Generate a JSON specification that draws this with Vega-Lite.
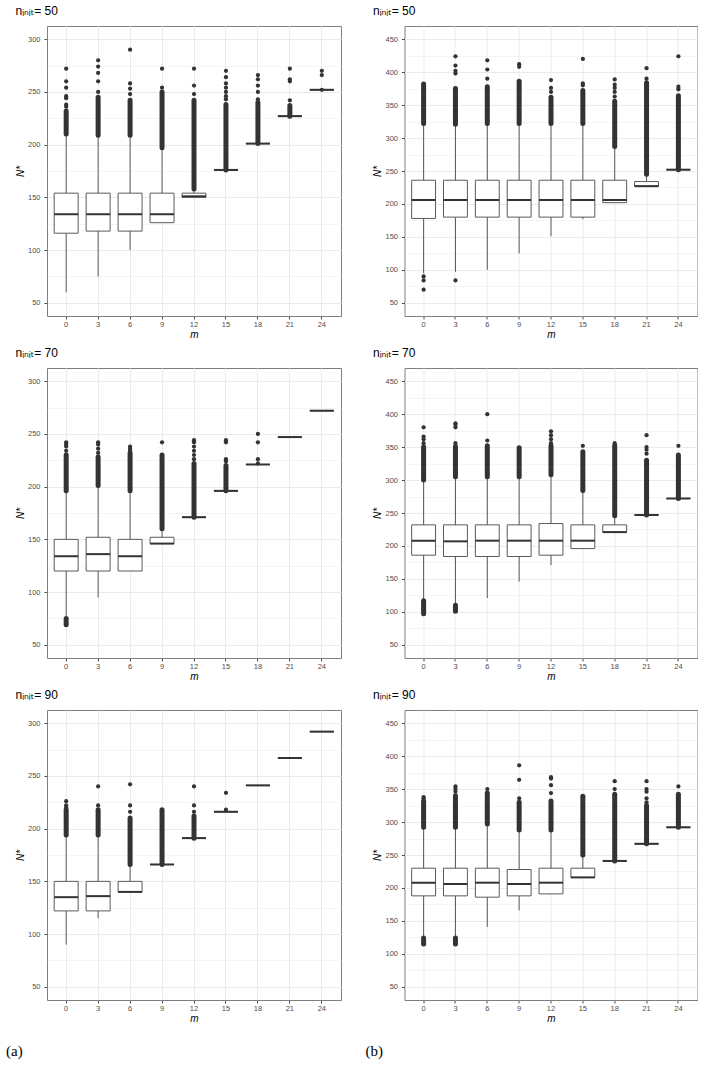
{
  "$schema": "https://vega.github.io/schema/vega-lite/v6.json",
  "padding": {"left": 5, "top": 4, "right": 0, "bottom": 0},
  "background": "white",
  "datasets": {
    "boxes": [
      {"p": "a50", "m": 0, "lo": 60, "q1": 116, "med": 134, "q3": 154, "hi": 210},
      {"p": "a50", "m": 3, "lo": 75, "q1": 118, "med": 134, "q3": 154, "hi": 209},
      {"p": "a50", "m": 6, "lo": 100, "q1": 118, "med": 134, "q3": 154, "hi": 209},
      {"p": "a50", "m": 9, "lo": 126, "q1": 126, "med": 134, "q3": 154, "hi": 197},
      {"p": "a50", "m": 12, "lo": 150, "q1": 150, "med": 151, "q3": 154, "hi": 158},
      {"p": "a50", "m": 15, "lo": 176, "q1": 176, "med": 176, "q3": 176, "hi": 176},
      {"p": "a50", "m": 18, "lo": 201, "q1": 201, "med": 201, "q3": 201, "hi": 201},
      {"p": "a50", "m": 21, "lo": 227, "q1": 227, "med": 227, "q3": 227, "hi": 227},
      {"p": "a50", "m": 24, "lo": 252, "q1": 252, "med": 252, "q3": 252, "hi": 252},
      {"p": "b50", "m": 0, "lo": 95, "q1": 178, "med": 206, "q3": 236, "hi": 322},
      {"p": "b50", "m": 3, "lo": 97, "q1": 180, "med": 206, "q3": 236, "hi": 321},
      {"p": "b50", "m": 6, "lo": 100, "q1": 180, "med": 206, "q3": 236, "hi": 322},
      {"p": "b50", "m": 9, "lo": 125, "q1": 180, "med": 206, "q3": 236, "hi": 322},
      {"p": "b50", "m": 12, "lo": 151, "q1": 180, "med": 206, "q3": 236, "hi": 322},
      {"p": "b50", "m": 15, "lo": 177, "q1": 180, "med": 206, "q3": 236, "hi": 322},
      {"p": "b50", "m": 18, "lo": 202, "q1": 202, "med": 206, "q3": 236, "hi": 287},
      {"p": "b50", "m": 21, "lo": 227, "q1": 227, "med": 227, "q3": 234, "hi": 245},
      {"p": "b50", "m": 24, "lo": 252, "q1": 252, "med": 252, "q3": 252, "hi": 252},
      {"p": "a70", "m": 0, "lo": 77, "q1": 120, "med": 134, "q3": 150, "hi": 196},
      {"p": "a70", "m": 3, "lo": 95, "q1": 120, "med": 136, "q3": 152, "hi": 201},
      {"p": "a70", "m": 6, "lo": 120, "q1": 120, "med": 134, "q3": 150, "hi": 196},
      {"p": "a70", "m": 9, "lo": 146, "q1": 146, "med": 146, "q3": 152, "hi": 160},
      {"p": "a70", "m": 12, "lo": 171, "q1": 171, "med": 171, "q3": 171, "hi": 171},
      {"p": "a70", "m": 15, "lo": 196, "q1": 196, "med": 196, "q3": 196, "hi": 196},
      {"p": "a70", "m": 18, "lo": 221, "q1": 221, "med": 221, "q3": 221, "hi": 221},
      {"p": "a70", "m": 21, "lo": 247, "q1": 247, "med": 247, "q3": 247, "hi": 247},
      {"p": "a70", "m": 24, "lo": 272, "q1": 272, "med": 272, "q3": 272, "hi": 272},
      {"p": "b70", "m": 0, "lo": 118, "q1": 186, "med": 208, "q3": 232, "hi": 300},
      {"p": "b70", "m": 3, "lo": 112, "q1": 184, "med": 207, "q3": 232, "hi": 305},
      {"p": "b70", "m": 6, "lo": 121, "q1": 184, "med": 208, "q3": 232, "hi": 305},
      {"p": "b70", "m": 9, "lo": 146, "q1": 184, "med": 208, "q3": 232, "hi": 305},
      {"p": "b70", "m": 12, "lo": 171, "q1": 186, "med": 208, "q3": 234, "hi": 308},
      {"p": "b70", "m": 15, "lo": 196, "q1": 196, "med": 208, "q3": 232, "hi": 284},
      {"p": "b70", "m": 18, "lo": 221, "q1": 221, "med": 221, "q3": 232, "hi": 246},
      {"p": "b70", "m": 21, "lo": 247, "q1": 247, "med": 247, "q3": 247, "hi": 247},
      {"p": "b70", "m": 24, "lo": 272, "q1": 272, "med": 272, "q3": 272, "hi": 272},
      {"p": "a90", "m": 0, "lo": 90, "q1": 122, "med": 135, "q3": 150, "hi": 194},
      {"p": "a90", "m": 3, "lo": 115, "q1": 122, "med": 136, "q3": 150, "hi": 194},
      {"p": "a90", "m": 6, "lo": 140, "q1": 140, "med": 140, "q3": 150, "hi": 166},
      {"p": "a90", "m": 9, "lo": 166, "q1": 166, "med": 166, "q3": 166, "hi": 166},
      {"p": "a90", "m": 12, "lo": 191, "q1": 191, "med": 191, "q3": 191, "hi": 191},
      {"p": "a90", "m": 15, "lo": 216, "q1": 216, "med": 216, "q3": 216, "hi": 216},
      {"p": "a90", "m": 18, "lo": 241, "q1": 241, "med": 241, "q3": 241, "hi": 241},
      {"p": "a90", "m": 21, "lo": 267, "q1": 267, "med": 267, "q3": 267, "hi": 267},
      {"p": "a90", "m": 24, "lo": 292, "q1": 292, "med": 292, "q3": 292, "hi": 292},
      {"p": "b90", "m": 0, "lo": 126, "q1": 188, "med": 208, "q3": 230, "hi": 292},
      {"p": "b90", "m": 3, "lo": 126, "q1": 188, "med": 206, "q3": 230, "hi": 292},
      {"p": "b90", "m": 6, "lo": 141, "q1": 186, "med": 208, "q3": 230, "hi": 297},
      {"p": "b90", "m": 9, "lo": 166, "q1": 188, "med": 206, "q3": 228, "hi": 288},
      {"p": "b90", "m": 12, "lo": 191, "q1": 191, "med": 208, "q3": 230, "hi": 288},
      {"p": "b90", "m": 15, "lo": 216, "q1": 216, "med": 216, "q3": 230, "hi": 250},
      {"p": "b90", "m": 18, "lo": 241, "q1": 241, "med": 241, "q3": 241, "hi": 241},
      {"p": "b90", "m": 21, "lo": 267, "q1": 267, "med": 267, "q3": 267, "hi": 267},
      {"p": "b90", "m": 24, "lo": 292, "q1": 292, "med": 292, "q3": 292, "hi": 292}
    ],
    "dense": [
      {"p": "a50", "m": 0, "from": 210, "to": 232},
      {"p": "a50", "m": 3, "from": 209, "to": 245},
      {"p": "a50", "m": 6, "from": 209, "to": 242},
      {"p": "a50", "m": 9, "from": 197, "to": 250},
      {"p": "a50", "m": 12, "from": 158, "to": 242},
      {"p": "a50", "m": 15, "from": 176, "to": 238},
      {"p": "a50", "m": 18, "from": 201, "to": 240},
      {"p": "a50", "m": 21, "from": 227, "to": 237},
      {"p": "b50", "m": 0, "from": 322, "to": 382},
      {"p": "b50", "m": 3, "from": 321, "to": 375},
      {"p": "b50", "m": 6, "from": 322, "to": 378},
      {"p": "b50", "m": 9, "from": 322, "to": 386},
      {"p": "b50", "m": 12, "from": 322, "to": 362},
      {"p": "b50", "m": 15, "from": 322, "to": 372},
      {"p": "b50", "m": 18, "from": 287, "to": 356},
      {"p": "b50", "m": 21, "from": 245, "to": 384},
      {"p": "b50", "m": 24, "from": 252, "to": 364},
      {"p": "a70", "m": 0, "from": 196, "to": 230},
      {"p": "a70", "m": 0, "from": 69, "to": 75},
      {"p": "a70", "m": 3, "from": 201, "to": 228},
      {"p": "a70", "m": 6, "from": 196, "to": 232},
      {"p": "a70", "m": 9, "from": 160, "to": 230},
      {"p": "a70", "m": 12, "from": 171, "to": 222},
      {"p": "a70", "m": 15, "from": 196, "to": 220},
      {"p": "b70", "m": 0, "from": 300, "to": 350},
      {"p": "b70", "m": 0, "from": 97, "to": 117},
      {"p": "b70", "m": 3, "from": 305, "to": 350},
      {"p": "b70", "m": 3, "from": 101, "to": 110},
      {"p": "b70", "m": 6, "from": 305, "to": 352},
      {"p": "b70", "m": 9, "from": 305, "to": 349},
      {"p": "b70", "m": 12, "from": 308, "to": 352},
      {"p": "b70", "m": 15, "from": 284, "to": 343},
      {"p": "b70", "m": 18, "from": 246, "to": 352},
      {"p": "b70", "m": 21, "from": 247, "to": 330},
      {"p": "b70", "m": 24, "from": 272, "to": 338},
      {"p": "a90", "m": 0, "from": 194, "to": 218},
      {"p": "a90", "m": 3, "from": 194, "to": 218},
      {"p": "a90", "m": 6, "from": 166, "to": 210},
      {"p": "a90", "m": 9, "from": 166, "to": 218},
      {"p": "a90", "m": 12, "from": 191, "to": 212},
      {"p": "b90", "m": 0, "from": 292, "to": 332},
      {"p": "b90", "m": 0, "from": 115, "to": 124},
      {"p": "b90", "m": 3, "from": 292, "to": 340},
      {"p": "b90", "m": 3, "from": 115, "to": 124},
      {"p": "b90", "m": 6, "from": 297, "to": 344},
      {"p": "b90", "m": 9, "from": 288, "to": 330},
      {"p": "b90", "m": 12, "from": 288, "to": 332},
      {"p": "b90", "m": 15, "from": 250, "to": 339},
      {"p": "b90", "m": 18, "from": 241, "to": 342},
      {"p": "b90", "m": 21, "from": 267, "to": 325},
      {"p": "b90", "m": 24, "from": 292, "to": 342}
    ],
    "pts": [
      {"p": "a50", "m": 0, "v": 236}, {"p": "a50", "m": 0, "v": 238}, {"p": "a50", "m": 0, "v": 244}, {"p": "a50", "m": 0, "v": 246}, {"p": "a50", "m": 0, "v": 254}, {"p": "a50", "m": 0, "v": 260}, {"p": "a50", "m": 0, "v": 272},
      {"p": "a50", "m": 3, "v": 250}, {"p": "a50", "m": 3, "v": 260}, {"p": "a50", "m": 3, "v": 268}, {"p": "a50", "m": 3, "v": 274}, {"p": "a50", "m": 3, "v": 280},
      {"p": "a50", "m": 6, "v": 248}, {"p": "a50", "m": 6, "v": 253}, {"p": "a50", "m": 6, "v": 258}, {"p": "a50", "m": 6, "v": 290},
      {"p": "a50", "m": 9, "v": 254}, {"p": "a50", "m": 9, "v": 272},
      {"p": "a50", "m": 12, "v": 248}, {"p": "a50", "m": 12, "v": 256}, {"p": "a50", "m": 12, "v": 272},
      {"p": "a50", "m": 15, "v": 243}, {"p": "a50", "m": 15, "v": 246}, {"p": "a50", "m": 15, "v": 250}, {"p": "a50", "m": 15, "v": 254}, {"p": "a50", "m": 15, "v": 258}, {"p": "a50", "m": 15, "v": 264}, {"p": "a50", "m": 15, "v": 270},
      {"p": "a50", "m": 18, "v": 243}, {"p": "a50", "m": 18, "v": 250}, {"p": "a50", "m": 18, "v": 256}, {"p": "a50", "m": 18, "v": 262}, {"p": "a50", "m": 18, "v": 266},
      {"p": "a50", "m": 21, "v": 242}, {"p": "a50", "m": 21, "v": 260}, {"p": "a50", "m": 21, "v": 262}, {"p": "a50", "m": 21, "v": 272},
      {"p": "a50", "m": 24, "v": 252}, {"p": "a50", "m": 24, "v": 266}, {"p": "a50", "m": 24, "v": 270},
      {"p": "b50", "m": 0, "v": 90}, {"p": "b50", "m": 0, "v": 84}, {"p": "b50", "m": 0, "v": 70},
      {"p": "b50", "m": 3, "v": 84}, {"p": "b50", "m": 3, "v": 398}, {"p": "b50", "m": 3, "v": 402}, {"p": "b50", "m": 3, "v": 410}, {"p": "b50", "m": 3, "v": 424},
      {"p": "b50", "m": 6, "v": 390}, {"p": "b50", "m": 6, "v": 404}, {"p": "b50", "m": 6, "v": 418},
      {"p": "b50", "m": 9, "v": 408}, {"p": "b50", "m": 9, "v": 412},
      {"p": "b50", "m": 12, "v": 370}, {"p": "b50", "m": 12, "v": 376}, {"p": "b50", "m": 12, "v": 388},
      {"p": "b50", "m": 15, "v": 380}, {"p": "b50", "m": 15, "v": 383}, {"p": "b50", "m": 15, "v": 420},
      {"p": "b50", "m": 18, "v": 363}, {"p": "b50", "m": 18, "v": 370}, {"p": "b50", "m": 18, "v": 376}, {"p": "b50", "m": 18, "v": 381}, {"p": "b50", "m": 18, "v": 389},
      {"p": "b50", "m": 21, "v": 390}, {"p": "b50", "m": 21, "v": 406},
      {"p": "b50", "m": 24, "v": 374}, {"p": "b50", "m": 24, "v": 378}, {"p": "b50", "m": 24, "v": 424},
      {"p": "a70", "m": 0, "v": 234}, {"p": "a70", "m": 0, "v": 238}, {"p": "a70", "m": 0, "v": 240}, {"p": "a70", "m": 0, "v": 242},
      {"p": "a70", "m": 3, "v": 232}, {"p": "a70", "m": 3, "v": 236}, {"p": "a70", "m": 3, "v": 240}, {"p": "a70", "m": 3, "v": 242},
      {"p": "a70", "m": 6, "v": 234}, {"p": "a70", "m": 6, "v": 236}, {"p": "a70", "m": 6, "v": 238},
      {"p": "a70", "m": 9, "v": 242},
      {"p": "a70", "m": 12, "v": 226}, {"p": "a70", "m": 12, "v": 230}, {"p": "a70", "m": 12, "v": 234}, {"p": "a70", "m": 12, "v": 238}, {"p": "a70", "m": 12, "v": 242}, {"p": "a70", "m": 12, "v": 244},
      {"p": "a70", "m": 15, "v": 224}, {"p": "a70", "m": 15, "v": 226}, {"p": "a70", "m": 15, "v": 242}, {"p": "a70", "m": 15, "v": 244},
      {"p": "a70", "m": 18, "v": 222}, {"p": "a70", "m": 18, "v": 226}, {"p": "a70", "m": 18, "v": 242}, {"p": "a70", "m": 18, "v": 250},
      {"p": "b70", "m": 0, "v": 356}, {"p": "b70", "m": 0, "v": 362}, {"p": "b70", "m": 0, "v": 366}, {"p": "b70", "m": 0, "v": 380},
      {"p": "b70", "m": 3, "v": 352}, {"p": "b70", "m": 3, "v": 356}, {"p": "b70", "m": 3, "v": 380}, {"p": "b70", "m": 3, "v": 384}, {"p": "b70", "m": 3, "v": 386},
      {"p": "b70", "m": 6, "v": 360}, {"p": "b70", "m": 6, "v": 400},
      {"p": "b70", "m": 12, "v": 356}, {"p": "b70", "m": 12, "v": 362}, {"p": "b70", "m": 12, "v": 368}, {"p": "b70", "m": 12, "v": 374},
      {"p": "b70", "m": 15, "v": 352},
      {"p": "b70", "m": 18, "v": 356},
      {"p": "b70", "m": 21, "v": 340}, {"p": "b70", "m": 21, "v": 346}, {"p": "b70", "m": 21, "v": 350}, {"p": "b70", "m": 21, "v": 368},
      {"p": "b70", "m": 24, "v": 352},
      {"p": "a90", "m": 0, "v": 220}, {"p": "a90", "m": 0, "v": 222}, {"p": "a90", "m": 0, "v": 226},
      {"p": "a90", "m": 3, "v": 222}, {"p": "a90", "m": 3, "v": 240},
      {"p": "a90", "m": 6, "v": 216}, {"p": "a90", "m": 6, "v": 222}, {"p": "a90", "m": 6, "v": 242},
      {"p": "a90", "m": 12, "v": 216}, {"p": "a90", "m": 12, "v": 222}, {"p": "a90", "m": 12, "v": 240},
      {"p": "a90", "m": 15, "v": 218}, {"p": "a90", "m": 15, "v": 234},
      {"p": "b90", "m": 0, "v": 336}, {"p": "b90", "m": 0, "v": 338},
      {"p": "b90", "m": 3, "v": 346}, {"p": "b90", "m": 3, "v": 350}, {"p": "b90", "m": 3, "v": 354},
      {"p": "b90", "m": 6, "v": 350},
      {"p": "b90", "m": 9, "v": 336}, {"p": "b90", "m": 9, "v": 364}, {"p": "b90", "m": 9, "v": 386},
      {"p": "b90", "m": 12, "v": 344}, {"p": "b90", "m": 12, "v": 356}, {"p": "b90", "m": 12, "v": 366}, {"p": "b90", "m": 12, "v": 368},
      {"p": "b90", "m": 18, "v": 350}, {"p": "b90", "m": 18, "v": 362},
      {"p": "b90", "m": 21, "v": 330}, {"p": "b90", "m": 21, "v": 336}, {"p": "b90", "m": 21, "v": 346}, {"p": "b90", "m": 21, "v": 350}, {"p": "b90", "m": 21, "v": 362},
      {"p": "b90", "m": 24, "v": 354}
    ]
  },
  "hconcat": [
    {
      "title": {"text": "(a)", "orient": "bottom", "anchor": "start", "font": "Liberation Serif", "fontSize": 15, "offset": 20, "dx": -9},
      "spacing": 6,
      "vconcat": [
        {
          "width": 294, "height": 290,
          "title": "nᵢₙᵢₜ= 50",
          "resolve": {"axis": {"y": "independent"}},
          "encoding": {"x": {"field": "m", "type": "ordinal", "title": "m", "scale": {"domain": [0, 3, 6, 9, 12, 15, 18, 21, 24], "paddingInner": 0.25, "paddingOuter": 0.225}, "axis": {"grid": true}}},
          "layer": [
            {"data": {"name": "boxes"}, "transform": [{"filter": "datum.p == 'a50'"}], "mark": {"type": "rule", "color": "#5a5a5a", "strokeWidth": 1}, "encoding": {"y": {"field": "lo", "type": "quantitative", "title": "N*", "scale": {"domain": [37.5, 312.5], "nice": false, "zero": false}, "axis": {"values": [50, 100, 150, 200, 250, 300]}}, "y2": {"field": "hi"}}},
            {"data": {"name": "dense"}, "transform": [{"filter": "datum.p == 'a50'"}], "mark": {"type": "rule", "color": "#333333", "strokeWidth": 5, "strokeCap": "round"}, "encoding": {"y": {"field": "from", "type": "quantitative", "axis": {"orient": "right", "values": [75, 125, 175, 225, 275], "labels": false, "ticks": false, "domain": false, "title": null, "grid": true, "gridWidth": 0.5}}, "y2": {"field": "to"}}},
            {"data": {"name": "boxes"}, "transform": [{"filter": "datum.p == 'a50'"}], "mark": {"type": "bar", "fill": "white", "stroke": "#5a5a5a", "strokeWidth": 1}, "encoding": {"y": {"field": "q1", "type": "quantitative", "axis": null}, "y2": {"field": "q3"}}},
            {"data": {"name": "boxes"}, "transform": [{"filter": "datum.p == 'a50'"}], "mark": {"type": "tick", "color": "#333333", "thickness": 2, "size": 24, "opacity": 1}, "encoding": {"y": {"field": "med", "type": "quantitative", "axis": null}}},
            {"data": {"name": "pts"}, "transform": [{"filter": "datum.p == 'a50'"}], "mark": {"type": "circle", "color": "#333333", "opacity": 1, "size": 18}, "encoding": {"y": {"field": "v", "type": "quantitative", "axis": null}}}
          ]
        },
        {
          "width": 294, "height": 290,
          "title": "nᵢₙᵢₜ= 70",
          "resolve": {"axis": {"y": "independent"}},
          "encoding": {"x": {"field": "m", "type": "ordinal", "title": "m", "scale": {"domain": [0, 3, 6, 9, 12, 15, 18, 21, 24], "paddingInner": 0.25, "paddingOuter": 0.225}, "axis": {"grid": true}}},
          "layer": [
            {"data": {"name": "boxes"}, "transform": [{"filter": "datum.p == 'a70'"}], "mark": {"type": "rule", "color": "#5a5a5a", "strokeWidth": 1}, "encoding": {"y": {"field": "lo", "type": "quantitative", "title": "N*", "scale": {"domain": [37.5, 312.5], "nice": false, "zero": false}, "axis": {"values": [50, 100, 150, 200, 250, 300]}}, "y2": {"field": "hi"}}},
            {"data": {"name": "dense"}, "transform": [{"filter": "datum.p == 'a70'"}], "mark": {"type": "rule", "color": "#333333", "strokeWidth": 5, "strokeCap": "round"}, "encoding": {"y": {"field": "from", "type": "quantitative", "axis": {"orient": "right", "values": [75, 125, 175, 225, 275], "labels": false, "ticks": false, "domain": false, "title": null, "grid": true, "gridWidth": 0.5}}, "y2": {"field": "to"}}},
            {"data": {"name": "boxes"}, "transform": [{"filter": "datum.p == 'a70'"}], "mark": {"type": "bar", "fill": "white", "stroke": "#5a5a5a", "strokeWidth": 1}, "encoding": {"y": {"field": "q1", "type": "quantitative", "axis": null}, "y2": {"field": "q3"}}},
            {"data": {"name": "boxes"}, "transform": [{"filter": "datum.p == 'a70'"}], "mark": {"type": "tick", "color": "#333333", "thickness": 2, "size": 24, "opacity": 1}, "encoding": {"y": {"field": "med", "type": "quantitative", "axis": null}}},
            {"data": {"name": "pts"}, "transform": [{"filter": "datum.p == 'a70'"}], "mark": {"type": "circle", "color": "#333333", "opacity": 1, "size": 18}, "encoding": {"y": {"field": "v", "type": "quantitative", "axis": null}}}
          ]
        },
        {
          "width": 294, "height": 290,
          "title": "nᵢₙᵢₜ= 90",
          "resolve": {"axis": {"y": "independent"}},
          "encoding": {"x": {"field": "m", "type": "ordinal", "title": "m", "scale": {"domain": [0, 3, 6, 9, 12, 15, 18, 21, 24], "paddingInner": 0.25, "paddingOuter": 0.225}, "axis": {"grid": true}}},
          "layer": [
            {"data": {"name": "boxes"}, "transform": [{"filter": "datum.p == 'a90'"}], "mark": {"type": "rule", "color": "#5a5a5a", "strokeWidth": 1}, "encoding": {"y": {"field": "lo", "type": "quantitative", "title": "N*", "scale": {"domain": [37.5, 312.5], "nice": false, "zero": false}, "axis": {"values": [50, 100, 150, 200, 250, 300]}}, "y2": {"field": "hi"}}},
            {"data": {"name": "dense"}, "transform": [{"filter": "datum.p == 'a90'"}], "mark": {"type": "rule", "color": "#333333", "strokeWidth": 5, "strokeCap": "round"}, "encoding": {"y": {"field": "from", "type": "quantitative", "axis": {"orient": "right", "values": [75, 125, 175, 225, 275], "labels": false, "ticks": false, "domain": false, "title": null, "grid": true, "gridWidth": 0.5}}, "y2": {"field": "to"}}},
            {"data": {"name": "boxes"}, "transform": [{"filter": "datum.p == 'a90'"}], "mark": {"type": "bar", "fill": "white", "stroke": "#5a5a5a", "strokeWidth": 1}, "encoding": {"y": {"field": "q1", "type": "quantitative", "axis": null}, "y2": {"field": "q3"}}},
            {"data": {"name": "boxes"}, "transform": [{"filter": "datum.p == 'a90'"}], "mark": {"type": "tick", "color": "#333333", "thickness": 2, "size": 24, "opacity": 1}, "encoding": {"y": {"field": "med", "type": "quantitative", "axis": null}}},
            {"data": {"name": "pts"}, "transform": [{"filter": "datum.p == 'a90'"}], "mark": {"type": "circle", "color": "#333333", "opacity": 1, "size": 18}, "encoding": {"y": {"field": "v", "type": "quantitative", "axis": null}}}
          ]
        }
      ]
    },
    {
      "title": {"text": "(b)", "orient": "bottom", "anchor": "start", "font": "Liberation Serif", "fontSize": 15, "offset": 20, "dx": -7},
      "spacing": 6,
      "vconcat": [
        {
          "width": 293, "height": 290,
          "title": "nᵢₙᵢₜ= 50",
          "resolve": {"axis": {"y": "independent"}},
          "encoding": {"x": {"field": "m", "type": "ordinal", "title": "m", "scale": {"domain": [0, 3, 6, 9, 12, 15, 18, 21, 24], "paddingInner": 0.25, "paddingOuter": 0.225}, "axis": {"grid": true}}},
          "layer": [
            {"data": {"name": "boxes"}, "transform": [{"filter": "datum.p == 'b50'"}], "mark": {"type": "rule", "color": "#5a5a5a", "strokeWidth": 1}, "encoding": {"y": {"field": "lo", "type": "quantitative", "title": "N*", "scale": {"domain": [30, 470], "nice": false, "zero": false}, "axis": {"values": [50, 100, 150, 200, 250, 300, 350, 400, 450]}}, "y2": {"field": "hi"}}},
            {"data": {"name": "dense"}, "transform": [{"filter": "datum.p == 'b50'"}], "mark": {"type": "rule", "color": "#333333", "strokeWidth": 5, "strokeCap": "round"}, "encoding": {"y": {"field": "from", "type": "quantitative", "axis": {"orient": "right", "values": [75, 125, 175, 225, 275, 325, 375, 425], "labels": false, "ticks": false, "domain": false, "title": null, "grid": true, "gridWidth": 0.5}}, "y2": {"field": "to"}}},
            {"data": {"name": "boxes"}, "transform": [{"filter": "datum.p == 'b50'"}], "mark": {"type": "bar", "fill": "white", "stroke": "#5a5a5a", "strokeWidth": 1}, "encoding": {"y": {"field": "q1", "type": "quantitative", "axis": null}, "y2": {"field": "q3"}}},
            {"data": {"name": "boxes"}, "transform": [{"filter": "datum.p == 'b50'"}], "mark": {"type": "tick", "color": "#333333", "thickness": 2, "size": 24, "opacity": 1}, "encoding": {"y": {"field": "med", "type": "quantitative", "axis": null}}},
            {"data": {"name": "pts"}, "transform": [{"filter": "datum.p == 'b50'"}], "mark": {"type": "circle", "color": "#333333", "opacity": 1, "size": 18}, "encoding": {"y": {"field": "v", "type": "quantitative", "axis": null}}}
          ]
        },
        {
          "width": 293, "height": 290,
          "title": "nᵢₙᵢₜ= 70",
          "resolve": {"axis": {"y": "independent"}},
          "encoding": {"x": {"field": "m", "type": "ordinal", "title": "m", "scale": {"domain": [0, 3, 6, 9, 12, 15, 18, 21, 24], "paddingInner": 0.25, "paddingOuter": 0.225}, "axis": {"grid": true}}},
          "layer": [
            {"data": {"name": "boxes"}, "transform": [{"filter": "datum.p == 'b70'"}], "mark": {"type": "rule", "color": "#5a5a5a", "strokeWidth": 1}, "encoding": {"y": {"field": "lo", "type": "quantitative", "title": "N*", "scale": {"domain": [30, 470], "nice": false, "zero": false}, "axis": {"values": [50, 100, 150, 200, 250, 300, 350, 400, 450]}}, "y2": {"field": "hi"}}},
            {"data": {"name": "dense"}, "transform": [{"filter": "datum.p == 'b70'"}], "mark": {"type": "rule", "color": "#333333", "strokeWidth": 5, "strokeCap": "round"}, "encoding": {"y": {"field": "from", "type": "quantitative", "axis": {"orient": "right", "values": [75, 125, 175, 225, 275, 325, 375, 425], "labels": false, "ticks": false, "domain": false, "title": null, "grid": true, "gridWidth": 0.5}}, "y2": {"field": "to"}}},
            {"data": {"name": "boxes"}, "transform": [{"filter": "datum.p == 'b70'"}], "mark": {"type": "bar", "fill": "white", "stroke": "#5a5a5a", "strokeWidth": 1}, "encoding": {"y": {"field": "q1", "type": "quantitative", "axis": null}, "y2": {"field": "q3"}}},
            {"data": {"name": "boxes"}, "transform": [{"filter": "datum.p == 'b70'"}], "mark": {"type": "tick", "color": "#333333", "thickness": 2, "size": 24, "opacity": 1}, "encoding": {"y": {"field": "med", "type": "quantitative", "axis": null}}},
            {"data": {"name": "pts"}, "transform": [{"filter": "datum.p == 'b70'"}], "mark": {"type": "circle", "color": "#333333", "opacity": 1, "size": 18}, "encoding": {"y": {"field": "v", "type": "quantitative", "axis": null}}}
          ]
        },
        {
          "width": 293, "height": 290,
          "title": "nᵢₙᵢₜ= 90",
          "resolve": {"axis": {"y": "independent"}},
          "encoding": {"x": {"field": "m", "type": "ordinal", "title": "m", "scale": {"domain": [0, 3, 6, 9, 12, 15, 18, 21, 24], "paddingInner": 0.25, "paddingOuter": 0.225}, "axis": {"grid": true}}},
          "layer": [
            {"data": {"name": "boxes"}, "transform": [{"filter": "datum.p == 'b90'"}], "mark": {"type": "rule", "color": "#5a5a5a", "strokeWidth": 1}, "encoding": {"y": {"field": "lo", "type": "quantitative", "title": "N*", "scale": {"domain": [30, 470], "nice": false, "zero": false}, "axis": {"values": [50, 100, 150, 200, 250, 300, 350, 400, 450]}}, "y2": {"field": "hi"}}},
            {"data": {"name": "dense"}, "transform": [{"filter": "datum.p == 'b90'"}], "mark": {"type": "rule", "color": "#333333", "strokeWidth": 5, "strokeCap": "round"}, "encoding": {"y": {"field": "from", "type": "quantitative", "axis": {"orient": "right", "values": [75, 125, 175, 225, 275, 325, 375, 425], "labels": false, "ticks": false, "domain": false, "title": null, "grid": true, "gridWidth": 0.5}}, "y2": {"field": "to"}}},
            {"data": {"name": "boxes"}, "transform": [{"filter": "datum.p == 'b90'"}], "mark": {"type": "bar", "fill": "white", "stroke": "#5a5a5a", "strokeWidth": 1}, "encoding": {"y": {"field": "q1", "type": "quantitative", "axis": null}, "y2": {"field": "q3"}}},
            {"data": {"name": "boxes"}, "transform": [{"filter": "datum.p == 'b90'"}], "mark": {"type": "tick", "color": "#333333", "thickness": 2, "size": 24, "opacity": 1}, "encoding": {"y": {"field": "med", "type": "quantitative", "axis": null}}},
            {"data": {"name": "pts"}, "transform": [{"filter": "datum.p == 'b90'"}], "mark": {"type": "circle", "color": "#333333", "opacity": 1, "size": 18}, "encoding": {"y": {"field": "v", "type": "quantitative", "axis": null}}}
          ]
        }
      ]
    }
  ],
  "spacing": 22.5,
  "config": {
    "font": "Liberation Sans, DejaVu Sans",
    "view": {"stroke": "#7f7f7f", "strokeWidth": 1},
    "axis": {"labelFont": "Liberation Sans", "labelFontSize": 7.5, "labelColor": "#4d4d4d", "tickColor": "#4d4d4d", "tickSize": 3, "domain": false, "gridColor": "#ebebeb", "titleFont": "Liberation Sans", "titleFontSize": 10, "titleFontStyle": "italic", "titleFontWeight": "normal", "titleColor": "#000000"},
    "axisX": {"labelAngle": 0, "labelPadding": 1, "titlePadding": 2, "bandPosition": 0.5},
    "axisY": {"labelPadding": 4, "titlePadding": 2},
    "title": {"anchor": "start", "fontSize": 12, "fontWeight": "normal", "font": "Liberation Sans, DejaVu Sans", "color": "#000000", "offset": 8.5}
  }
}
